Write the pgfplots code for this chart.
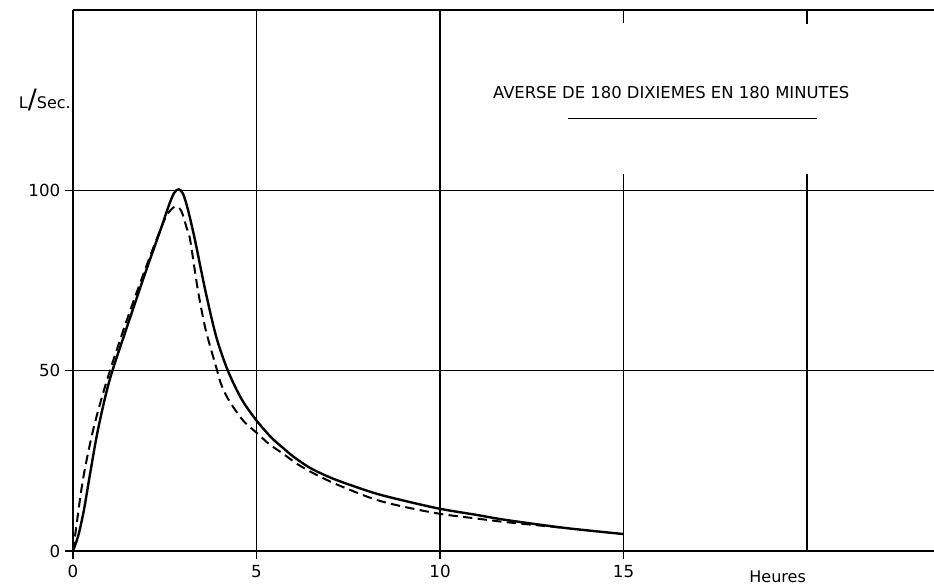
\documentclass[border=0pt]{standalone}
\usepackage{fontspec}
\setmainfont{DejaVu Sans}
\usepackage{pgfplots}
\pgfplotsset{compat=1.18}

\pgfplotstableread{
x y
0 0
0.15 4.5
0.3 11.5
0.45 20.5
0.68 33.6
1.0 47.5
1.5 63
2.0 78
2.4 89.5
2.6 95.5
2.75 99.2
2.88 100.3
3.0 99
3.13 94.7
3.32 86.4
3.6 72.5
3.9 59.5
4.22 50
4.6 42
5.0 36.2
5.4 31.5
5.72 28.6
6.0 26.2
6.4 23.4
6.7 21.8
7.2 19.6
8.2 16.1
9.0 14
10.0 11.7
11.0 10
11.8 8.6
13.4 6.4
15.0 4.7
}\solid

\pgfplotstableread{
x y
0 0
0.08 6
0.27 19.7
0.55 33.6
0.93 47.5
1.5 65
2.0 79
2.3 87
2.55 93
2.78 95.5
2.95 94.3
3.1 89.5
3.19 86.4
3.4 72.5
3.6 62
3.8 54.5
3.92 50.3
4.02 46.7
4.17 43.2
4.36 40
4.65 36
5.0 32.8
5.35 29.6
5.72 27.0
6.1 24.2
6.54 21.6
7.2 18.4
8.2 14.4
9.0 12.3
10.0 10.3
11.0 9
11.8 8
13.4 6.4
}\dashed

\begin{document}
\begin{tikzpicture}
\begin{axis}[
  scale only axis,
  width=645.75pt, height=405.75pt,
  xmin=0, xmax=23.46, ymin=0, ymax=150,
  axis line style={draw=none},
  xtick={0,5,10,15}, ytick={0,50,100},
  tick pos=left, tick align=outside,
  major tick length=6pt,
  tick style={black, line width=0.9pt},
  /pgf/number format/assume math mode=true,
  ticklabel style={font=\fontsize{12.5}{12.5}\selectfont},
  xticklabel style={yshift=-1pt},
  clip=false,
]
% frame and grid
\draw[line width=0.9pt] (axis cs:0,0) -- (axis cs:0,150);
\draw[line width=0.9pt] (axis cs:0,0) -- (axis cs:23.46,0);
\draw[line width=0.9pt] (axis cs:0,150) -- (axis cs:23.46,150);
\draw[line width=0.9pt] (axis cs:0,50) -- (axis cs:23.46,50);
\draw[line width=0.9pt] (axis cs:0,100) -- (axis cs:23.46,100);
\draw[line width=0.9pt] (axis cs:5,0) -- (axis cs:5,150);
\draw[line width=0.9pt] (axis cs:10,0) -- (axis cs:10,150);
\draw[line width=0.9pt] (axis cs:15,0) -- (axis cs:15,104.5);
\draw[line width=0.9pt] (axis cs:15,146.5) -- (axis cs:15,150);
\draw[line width=0.9pt] (axis cs:20,0) -- (axis cs:20,104.5);
\draw[line width=0.9pt] (axis cs:20,146) -- (axis cs:20,150);

\addplot[black, line width=1.8pt, smooth, tension=0.5] table {\solid};
\addplot[black, line width=1.5pt, dash pattern=on 7pt off 4pt, smooth, tension=0.5] table {\dashed};

\node[font=\fontsize{12.3}{12.3}\selectfont] at (axis cs:16.3,127) {AVERSE DE 180 DIXIEMES EN 180 MINUTES};
\draw[line width=1pt] (axis cs:13.5,120) -- (axis cs:20.27,120);
\node[anchor=east, font=\fontsize{12}{12}\selectfont, inner sep=0pt] at (axis cs:0,125) [xshift=-1.5pt] {L{\fontsize{20}{20}\selectfont/}Sec.};
\node[font=\fontsize{12}{12}\selectfont] at (axis cs:19.2,0) [yshift=-19.5pt] {Heures};

\coordinate (SW) at (rel axis cs:0,0);
\coordinate (NE) at (rel axis cs:1,1);
\end{axis}
\pgfresetboundingbox
\path[use as bounding box] ([xshift=-54.75pt,yshift=-26.25pt]SW) rectangle ([yshift=7.5pt]NE);
\end{tikzpicture}
\end{document}
